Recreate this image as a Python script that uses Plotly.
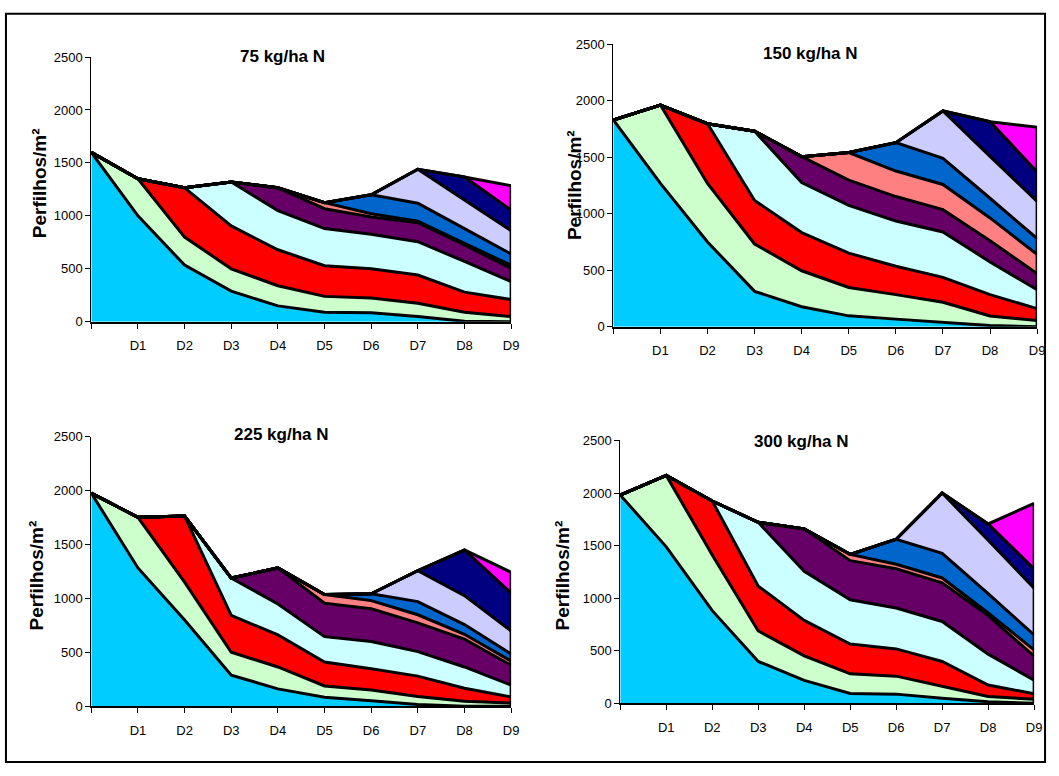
import plotly.graph_objects as go

# ---------------- data ----------------
categories = ["", "D1", "D2", "D3", "D4", "D5", "D6", "D7", "D8", "D9"]
panel_titles = ["75 kg/ha N", "150 kg/ha N", "225 kg/ha N", "300 kg/ha N"]
y_title = "Perfilhos/m²"
cohort_colors = ["#00CCFF", "#CCFFCC", "#FF0000", "#CCFFFF", "#660066",
                 "#FF8080", "#0066CC", "#CCCCFF", "#000080", "#FF00FF"]

# 75 kg/ha N  (tillers/m² of each cohort at each evaluation)
n75_c1 = [1600, 1000, 535, 290, 150, 90, 85, 50, 5, 0]
n75_c2 = [0, 350, 265, 210, 190, 150, 140, 125, 85, 50]
n75_c3 = [0, 0, 465, 405, 340, 290, 275, 266, 190, 160]
n75_c4 = [0, 0, 0, 415, 370, 350, 327, 315, 290, 170]
n75_c5 = [0, 0, 0, 0, 215, 188, 163, 179, 155, 125]
n75_c6 = [0, 0, 0, 0, 0, 57, 30, 15, 15, 29]
n75_c7 = [0, 0, 0, 0, 0, 0, 180, 170, 140, 106]
n75_c8 = [0, 0, 0, 0, 0, 0, 0, 320, 270, 220]
n75_c9 = [0, 0, 0, 0, 0, 0, 0, 0, 217, 195]
n75_c10 = [0, 0, 0, 0, 0, 0, 0, 0, 0, 229]

# 150 kg/ha N
n150_c1 = [1830, 1268, 750, 313, 177, 96, 67, 38, 10, 0]
n150_c2 = [0, 694, 518, 419, 318, 251, 217, 179, 85, 55]
n150_c3 = [0, 0, 529, 385, 338, 304, 251, 220, 189, 105]
n150_c4 = [0, 0, 0, 614, 443, 423, 400, 402, 289, 167]
n150_c5 = [0, 0, 0, 0, 229, 223, 217, 197, 188, 143]
n150_c6 = [0, 0, 0, 0, 0, 245, 226, 223, 202, 170]
n150_c7 = [0, 0, 0, 0, 0, 0, 251, 231, 174, 140]
n150_c8 = [0, 0, 0, 0, 0, 0, 0, 420, 371, 328]
n150_c9 = [0, 0, 0, 0, 0, 0, 0, 0, 307, 262]
n150_c10 = [0, 0, 0, 0, 0, 0, 0, 0, 0, 395]

# 225 kg/ha N
n225_c1 = [1975, 1282, 800, 288, 161, 84, 50, 15, 0, 0]
n225_c2 = [0, 469, 350, 212, 203, 104, 100, 76, 45, 30]
n225_c3 = [0, 0, 613, 342, 297, 221, 198, 188, 122, 55]
n225_c4 = [0, 0, 0, 346, 287, 236, 252, 227, 197, 110]
n225_c5 = [0, 0, 0, 0, 334, 309, 303, 267, 257, 185]
n225_c6 = [0, 0, 0, 0, 0, 82, 76, 75, 46, 38]
n225_c7 = [0, 0, 0, 0, 0, 0, 63, 122, 90, 67]
n225_c8 = [0, 0, 0, 0, 0, 0, 0, 287, 268, 212]
n225_c9 = [0, 0, 0, 0, 0, 0, 0, 0, 423, 351]
n225_c10 = [0, 0, 0, 0, 0, 0, 0, 0, 0, 194]

# 300 kg/ha N
n300_c1 = [1980, 1488, 881, 398, 218, 93, 87, 47, 15, 0]
n300_c2 = [0, 679, 529, 290, 233, 187, 171, 112, 50, 38]
n300_c3 = [0, 0, 514, 426, 337, 283, 259, 239, 109, 52]
n300_c4 = [0, 0, 0, 607, 467, 421, 389, 380, 293, 130]
n300_c5 = [0, 0, 0, 0, 404, 373, 373, 368, 367, 228]
n300_c6 = [0, 0, 0, 0, 0, 59, 44, 46, 25, 60]
n300_c7 = [0, 0, 0, 0, 0, 0, 237, 234, 184, 142]
n300_c8 = [0, 0, 0, 0, 0, 0, 0, 574, 507, 445]
n300_c9 = [0, 0, 0, 0, 0, 0, 0, 0, 156, 183]
n300_c10 = [0, 0, 0, 0, 0, 0, 0, 0, 0, 624]

panel_data = [
    [n75_c1, n75_c2, n75_c3, n75_c4, n75_c5, n75_c6, n75_c7, n75_c8, n75_c9, n75_c10],
    [n150_c1, n150_c2, n150_c3, n150_c4, n150_c5, n150_c6, n150_c7, n150_c8, n150_c9, n150_c10],
    [n225_c1, n225_c2, n225_c3, n225_c4, n225_c5, n225_c6, n225_c7, n225_c8, n225_c9, n225_c10],
    [n300_c1, n300_c2, n300_c3, n300_c4, n300_c5, n300_c6, n300_c7, n300_c8, n300_c9, n300_c10],
]

# ---------------- layout (pixels) ----------------
W, H = 1059, 776
# plot boxes: (left, right, top, bottom) in pixels
boxes = [(92, 515, 51, 321), (618, 1045, 38, 326), (92, 515, 438, 713), (625, 1042, 442, 710)]
title_pos = [(285, 50), (817, 47), (284, 436), (808, 443)]
ytitle_pos = [(40, 180), (579, 182), (37, 580), (567, 580)]

FONT = "Liberation Sans, Arial, sans-serif"
x_pos = list(range(len(categories)))

fig = go.Figure()
annotations = []
for i, series in enumerate(panel_data):
    n = i + 1
    xa, ya = ("x" if n == 1 else f"x{n}"), ("y" if n == 1 else f"y{n}")
    for k, vals in enumerate(series):
        fig.add_trace(go.Scatter(
            x=x_pos, y=vals, mode="lines", stackgroup=f"panel{n}",
            fillcolor=cohort_colors[k], line=dict(color="black", width=3),
            xaxis=xa, yaxis=ya, showlegend=False, cliponaxis=False,
            hoverinfo="skip"))
    # closing vertical edge of the stacked areas at the last evaluation
    total_last = sum(s[-1] for s in series)
    fig.add_trace(go.Scatter(
        x=[x_pos[-1], x_pos[-1]], y=[0, total_last], mode="lines",
        line=dict(color="black", width=3), xaxis=xa, yaxis=ya,
        showlegend=False, cliponaxis=False, hoverinfo="skip"))

    l, r, t, b = boxes[i]
    xkey = "xaxis" if n == 1 else f"xaxis{n}"
    ykey = "yaxis" if n == 1 else f"yaxis{n}"
    fig.update_layout(**{
        xkey: dict(domain=[l / W, r / W], anchor=ya, range=[0, len(categories) - 1],
                   tickmode="array", tickvals=x_pos, ticktext=categories,
                   ticks="outside", ticklen=5, tickcolor="black", tickwidth=1,
                   showline=True, linecolor="black", linewidth=2,
                   showgrid=False, zeroline=False, ticklabelstandoff=6,
                   tickfont=dict(family=FONT, size=13, color="black")),
        ykey: dict(domain=[1 - b / H, 1 - t / H], anchor=xa, range=[0, 2500],
                   tick0=0, dtick=500, ticks="outside", ticklen=5,
                   tickcolor="black", tickwidth=1, showline=True,
                   linecolor="black", linewidth=1, showgrid=False,
                   zeroline=False,
                   tickfont=dict(family=FONT, size=13, color="black")),
    })
    tx, ty = title_pos[i]
    annotations.append(dict(text=f"<b>{panel_titles[i]}</b>", x=tx / W, y=1 - ty / H,
                            xref="paper", yref="paper", showarrow=False,
                            xanchor="center", yanchor="middle",
                            font=dict(family=FONT, size=17, color="black")))
    yx, yy = ytitle_pos[i]
    annotations.append(dict(text=f"<b>{y_title}</b>", x=yx / W, y=1 - yy / H,
                            xref="paper", yref="paper", showarrow=False,
                            textangle=-90, xanchor="center", yanchor="middle",
                            font=dict(family=FONT, size=19, color="black")))

fig.update_layout(
    width=W, height=H, margin=dict(l=0, r=0, t=0, b=0),
    paper_bgcolor="white", plot_bgcolor="rgba(0,0,0,0)",
    annotations=annotations,
    shapes=[dict(type="rect", xref="paper", yref="paper",
                 x0=6 / W, x1=1053 / W, y0=1 - 770 / H, y1=1 - 7 / H,
                 line=dict(color="black", width=2))],
)

fig.write_html("out.html", config={"displayModeBar": False},
               post_script="document.body.style.margin='0';document.body.style.overflow='hidden';")
